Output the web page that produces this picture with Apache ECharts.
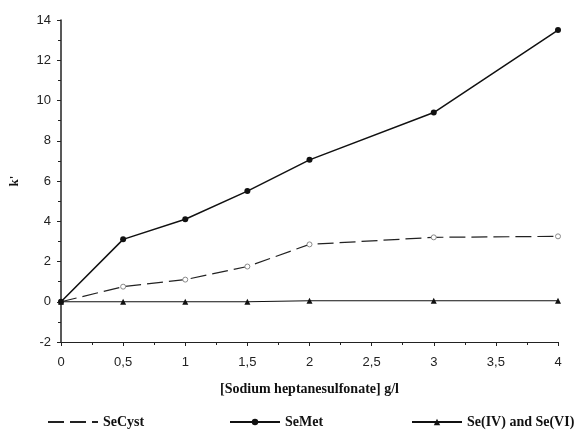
<!DOCTYPE html>
<html>
<head>
<meta charset="utf-8">
<script src="https://cdn.jsdelivr.net/npm/echarts@6/dist/echarts.min.js"></script>
<style>
  html, body { margin: 0; padding: 0; background: #fff; }
  #main { width: 578px; height: 430px; }
</style>
</head>
<body>
<div id="main"></div>
<script>
// concentration of sodium heptanesulfonate (g/l)
var conc = [0, 0.5, 1, 1.5, 2, 3, 4];
// k' values
var seCyst = [0, 0.75, 1.1, 1.75, 2.85, 3.2, 3.25];
var seMet = [0, 3.1, 4.1, 5.5, 7.05, 9.4, 13.5];
var seIV = [0, 0, 0, 0, 0.05, 0.05, 0.05];

function pairs(ys) {
  return conc.map(function (x, i) { return [x, ys[i]]; });
}

var chart = echarts.init(document.getElementById('main'));
var serif = '"Liberation Serif", "Times New Roman", serif';
var sans = '"Liberation Sans", Arial, sans-serif';

var legendText = { fontFamily: serif, fontWeight: 'bold', fontSize: 14, color: '#111' };

chart.setOption({
  animation: false,
  grid: { left: 61, right: 20, top: 20, bottom: 88 },
  legend: [
    {
      left: 42, top: 410, itemWidth: 50, itemHeight: 8, itemGap: 6, textStyle: legendText,
      data: [{ name: 'SeCyst', itemStyle: { color: 'rgba(0,0,0,0)', borderColor: 'rgba(0,0,0,0)' } }]
    },
    { left: 224, top: 410, itemWidth: 50, itemHeight: 8, textStyle: legendText, data: ['SeMet'] },
    { left: 406, top: 410, itemWidth: 50, itemHeight: 8, textStyle: legendText, data: ['Se(IV) and Se(VI)'] }
  ],
  xAxis: {
    type: 'value',
    min: 0, max: 4, interval: 0.5,
    name: '[Sodium heptanesulfonate] g/l',
    nameLocation: 'middle',
    nameGap: 40,
    nameTextStyle: { fontFamily: serif, fontWeight: 'bold', fontSize: 14, color: '#111' },
    axisLine: { onZero: false, lineStyle: { color: '#222', width: 1 } },
    axisTick: { inside: false, length: 4, lineStyle: { color: '#222' } },
    minorTick: { show: true, splitNumber: 2, length: 3, lineStyle: { color: '#222' } },
    splitLine: { show: false },
    axisLabel: {
      margin: 14, fontFamily: sans, fontSize: 13, color: '#222',
      formatter: function (v) { return String(v).replace('.', ','); }
    }
  },
  yAxis: {
    type: 'value',
    min: -2, max: 14, interval: 2,
    name: "k'",
    nameLocation: 'middle',
    nameGap: 40,
    nameRotate: 90,
    nameTextStyle: { fontFamily: serif, fontWeight: 'bold', fontSize: 13, color: '#111' },
    axisLine: { show: true, lineStyle: { color: '#222', width: 1.5 } },
    axisTick: { show: true, length: 4, lineStyle: { color: '#222' } },
    minorTick: { show: true, splitNumber: 2, length: 3, lineStyle: { color: '#222' } },
    splitLine: { show: false },
    axisLabel: { margin: 10, fontFamily: sans, fontSize: 13, color: '#222' }
  },
  series: [
    {
      name: 'SeCyst', type: 'line', data: pairs(seCyst),
      symbol: 'circle', symbolSize: 5,
      itemStyle: { color: '#fff', borderColor: '#888', borderWidth: 1 },
      lineStyle: { color: '#222', width: 1.2, type: [16, 6] }
    },
    {
      name: 'SeMet', type: 'line', data: pairs(seMet),
      symbol: 'circle', symbolSize: 6,
      itemStyle: { color: '#111' },
      lineStyle: { color: '#111', width: 1.5 }
    },
    {
      name: 'Se(IV) and Se(VI)', type: 'line', data: pairs(seIV),
      symbol: 'triangle', symbolSize: 6,
      itemStyle: { color: '#111' },
      lineStyle: { color: '#111', width: 1.2 }
    }
  ]
});
</script>
</body>
</html>
